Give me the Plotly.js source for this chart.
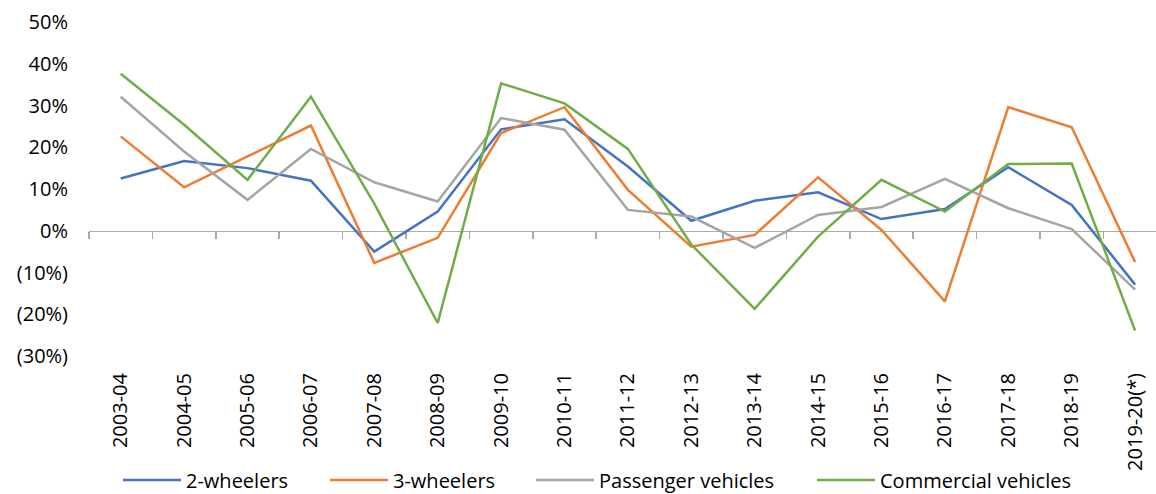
<!DOCTYPE html>
<html>
<head>
<meta charset="utf-8">
<script src="https://cdn.plot.ly/plotly-3.0.1.min.js"></script>
<style>
  html, body { margin: 0; padding: 0; background: #ffffff; }
  #chart { width: 1156px; height: 494px; }
</style>
</head>
<body>
<div id="chart"></div>
<script>
// ---- data (growth, %) ----
var categories = ["2003-04","2004-05","2005-06","2006-07","2007-08","2008-09","2009-10","2010-11","2011-12","2012-13","2013-14","2014-15","2015-16","2016-17","2017-18","2018-19","2019-20(*)"];
var twoWheelers = [12.5, 16.7, 15.0, 12.0, -5.0, 4.6, 24.3, 26.7, 15.4, 2.4, 7.2, 9.2, 2.8, 5.2, 15.2, 6.2, -12.9];
var threeWheelers = [22.6, 10.4, 17.8, 25.2, -7.7, -1.7, 23.4, 29.6, 9.8, -3.8, -1.0, 12.8, 0.2, -16.9, 29.6, 24.8, -7.5];
var passengerVehicles = [32.1, 19.0, 7.4, 19.6, 11.6, 7.0, 27.0, 24.2, 5.0, 3.4, -4.1, 3.8, 5.7, 12.4, 5.4, 0.4, -14.1];
var commercialVehicles = [37.6, 25.4, 12.2, 32.1, 6.5, -22.1, 35.3, 30.5, 19.6, -3.3, -18.7, -1.4, 12.2, 4.6, 16.0, 16.1, -23.9];
var seriesNames = ["2-wheelers", "3-wheelers", "Passenger vehicles", "Commercial vehicles"];
var yTickValues = [-30, -20, -10, 0, 10, 20, 30, 40, 50];
var yTickLabels = ["(30%)", "(20%)", "(10%)", "0%", "10%", "20%", "30%", "40%", "50%"];

var colors = ["#4472C4", "#ED7D31", "#A5A5A5", "#70AD47"];
var allSeries = [twoWheelers, threeWheelers, passengerVehicles, commercialVehicles];
// first two series on the labelled bottom axis, last two on the zero-line axis (same categories/range)
var xAxisOf = ["x", "x", "x2", "x2"];
var legendIds = ["legend", "legend2", "legend3", "legend4"];
var legendLeft = [118, 325, 531, 812]; // px position of each legend entry in the page

var traces = allSeries.map(function (vals, i) {
  return {
    type: "scatter",
    mode: "lines",
    name: seriesNames[i],
    x: categories,
    y: vals,
    xaxis: xAxisOf[i],
    yaxis: "y",
    legend: legendIds[i],
    line: { color: colors[i], width: 2.5 },
    hoverinfo: "x+y+name"
  };
});

var xRange = [-0.5, 16.33];
var yMin = -30, yMax = 50;
var W = 1156, H = 494;

var layout = {
  width: W,
  height: H,
  margin: { l: 89, r: 0, t: 22, b: 138, pad: 0, autoexpand: false },
  paper_bgcolor: "#ffffff",
  plot_bgcolor: "#ffffff",
  font: { family: "Open Sans, sans-serif", size: 20, color: "#000000" },
  showlegend: true,
  xaxis: {
    type: "category",
    categoryorder: "array",
    categoryarray: categories,
    range: xRange,
    showgrid: false,
    zeroline: false,
    showline: false,
    ticks: "",
    tickangle: -90,
    tickfont: { size: 20, color: "#000000" },
    ticklabelstandoff: 12,
    fixedrange: true
  },
  xaxis2: {
    type: "category",
    categoryorder: "array",
    categoryarray: categories,
    range: xRange,
    overlaying: "x",
    anchor: "free",
    position: (0 - yMin) / (yMax - yMin),
    showgrid: false,
    zeroline: false,
    showline: true,
    linecolor: "#ABABAB",
    linewidth: 1.5,
    ticks: "outside",
    tickson: "boundaries",
    ticklen: 7,
    tickwidth: 1.5,
    tickcolor: "#ABABAB",
    showticklabels: false,
    layer: "below traces",
    fixedrange: true
  },
  yaxis: {
    range: [yMin, yMax],
    showgrid: false,
    zeroline: false,
    showline: false,
    ticks: "",
    tickmode: "array",
    tickvals: yTickValues,
    ticktext: yTickLabels,
    tickfont: { size: 20, color: "#000000" },
    ticklabelstandoff: 20,
    fixedrange: true
  }
};

legendIds.forEach(function (id, i) {
  layout[id] = {
    orientation: "h",
    x: legendLeft[i] / W,
    xanchor: "left",
    xref: "container",
    y: (H - 480) / H,
    yanchor: "middle",
    yref: "container",
    font: { size: 20, color: "#000000" },
    bgcolor: "rgba(0,0,0,0)",
    borderwidth: 0,
    itemwidth: 58
  };
});

Plotly.newPlot("chart", traces, layout, { displayModeBar: false, staticPlot: true });
</script>
</body>
</html>
